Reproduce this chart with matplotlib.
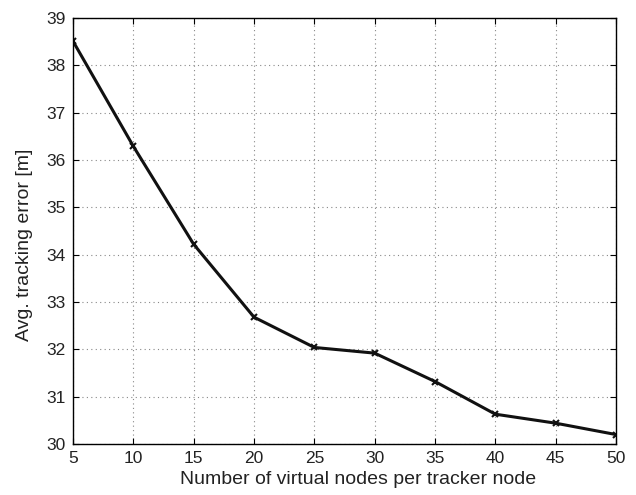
import matplotlib
matplotlib.use("Agg")
import matplotlib.pyplot as plt

plt.rcParams['font.family'] = ['Liberation Sans', 'DejaVu Sans']

nodos_virtuais = [5, 10, 15, 20, 25, 30, 35, 40, 45, 50]
erro_medio = [38.51, 36.29, 34.22, 32.68, 32.04, 31.92, 31.32, 30.63, 30.44, 30.20]

fig = plt.figure(figsize=(6.36, 4.95), dpi=100)
ax = fig.add_axes([0.1148, 0.103, 0.8538, 0.8606])
ax.plot(nodos_virtuais, erro_medio, color="#111111", linewidth=2.2,
        marker="x", markersize=4, markeredgewidth=1.5)
ax.set_xlim(5, 50)
ax.set_ylim(30, 39)
ax.set_xticks(range(5, 51, 5))
ax.set_yticks(range(30, 40))
ax.grid(True, linestyle=(0, (1, 3)), color="#888888", linewidth=0.8)
ax.tick_params(direction="in", top=True, right=True, labelsize=12.5,
               length=4, labelcolor="#222222", pad=5)
for s in ax.spines.values():
    s.set_linewidth(1.0)
ax.set_xlabel("Number of virtual nodes per tracker node", fontsize=14,
              color="#222222")
ax.set_ylabel("Avg. tracking error [m]", fontsize=14, color="#222222")
ax.xaxis.set_label_coords(0.525, -0.064)
ax.yaxis.set_label_coords(-0.074, 0.467)
fig.savefig("out.png", dpi=100)
